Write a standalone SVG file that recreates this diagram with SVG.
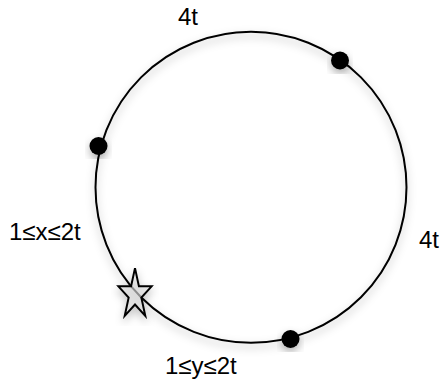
<svg xmlns="http://www.w3.org/2000/svg" width="440" height="381" viewBox="0 0 440 381">
  <defs>
    <filter id="sh" x="-20%" y="-20%" width="140%" height="140%">
      <feDropShadow dx="0" dy="4" stdDeviation="4.5" flood-color="#000" flood-opacity="0.3"/>
    </filter>
  </defs>
  <style>
    .lbl { font-family: "Liberation Sans", Arial, sans-serif; font-size: 24px; fill: #000; }
    .ring { fill: none; stroke: #000; stroke-width: 2; }
    .dot { fill: #000; }
    .star { fill: #dcdcdc; fill-opacity: 0.6; stroke: #000; stroke-width: 2; stroke-linejoin: miter; }
  </style>
  <rect width="440" height="381" fill="#fff"/>
  <g id="connectors">
    <circle class="ring" cx="251" cy="187.3" r="155.5" filter="url(#sh)"/>
  </g>
  <g id="dot-topright"><circle class="dot" cx="340" cy="60.5" r="9" filter="url(#sh)"/></g>
  <g id="dot-left"><circle class="dot" cx="98.5" cy="146" r="9" filter="url(#sh)"/></g>
  <g id="dot-bottom"><circle class="dot" cx="290.5" cy="339" r="9" filter="url(#sh)"/></g>
  <g id="star" filter="url(#sh)">
    <polygon class="star" transform="translate(135 294.5) scale(17.5 26.4)" vector-effect="non-scaling-stroke"
      points="0,-1 0.2245,-0.309 0.951,-0.309 0.363,0.118 0.588,0.809 0,0.382 -0.588,0.809 -0.363,0.118 -0.951,-0.309 -0.2245,-0.309"/>
  </g>
  <g id="labels">
    <text class="lbl" x="178" y="25">4t</text>
    <text class="lbl" x="9" y="240">1≤x≤2t</text>
    <text class="lbl" x="419" y="247.5">4t</text>
    <text class="lbl" x="165" y="373.5">1≤y≤2t</text>
  </g>
</svg>
